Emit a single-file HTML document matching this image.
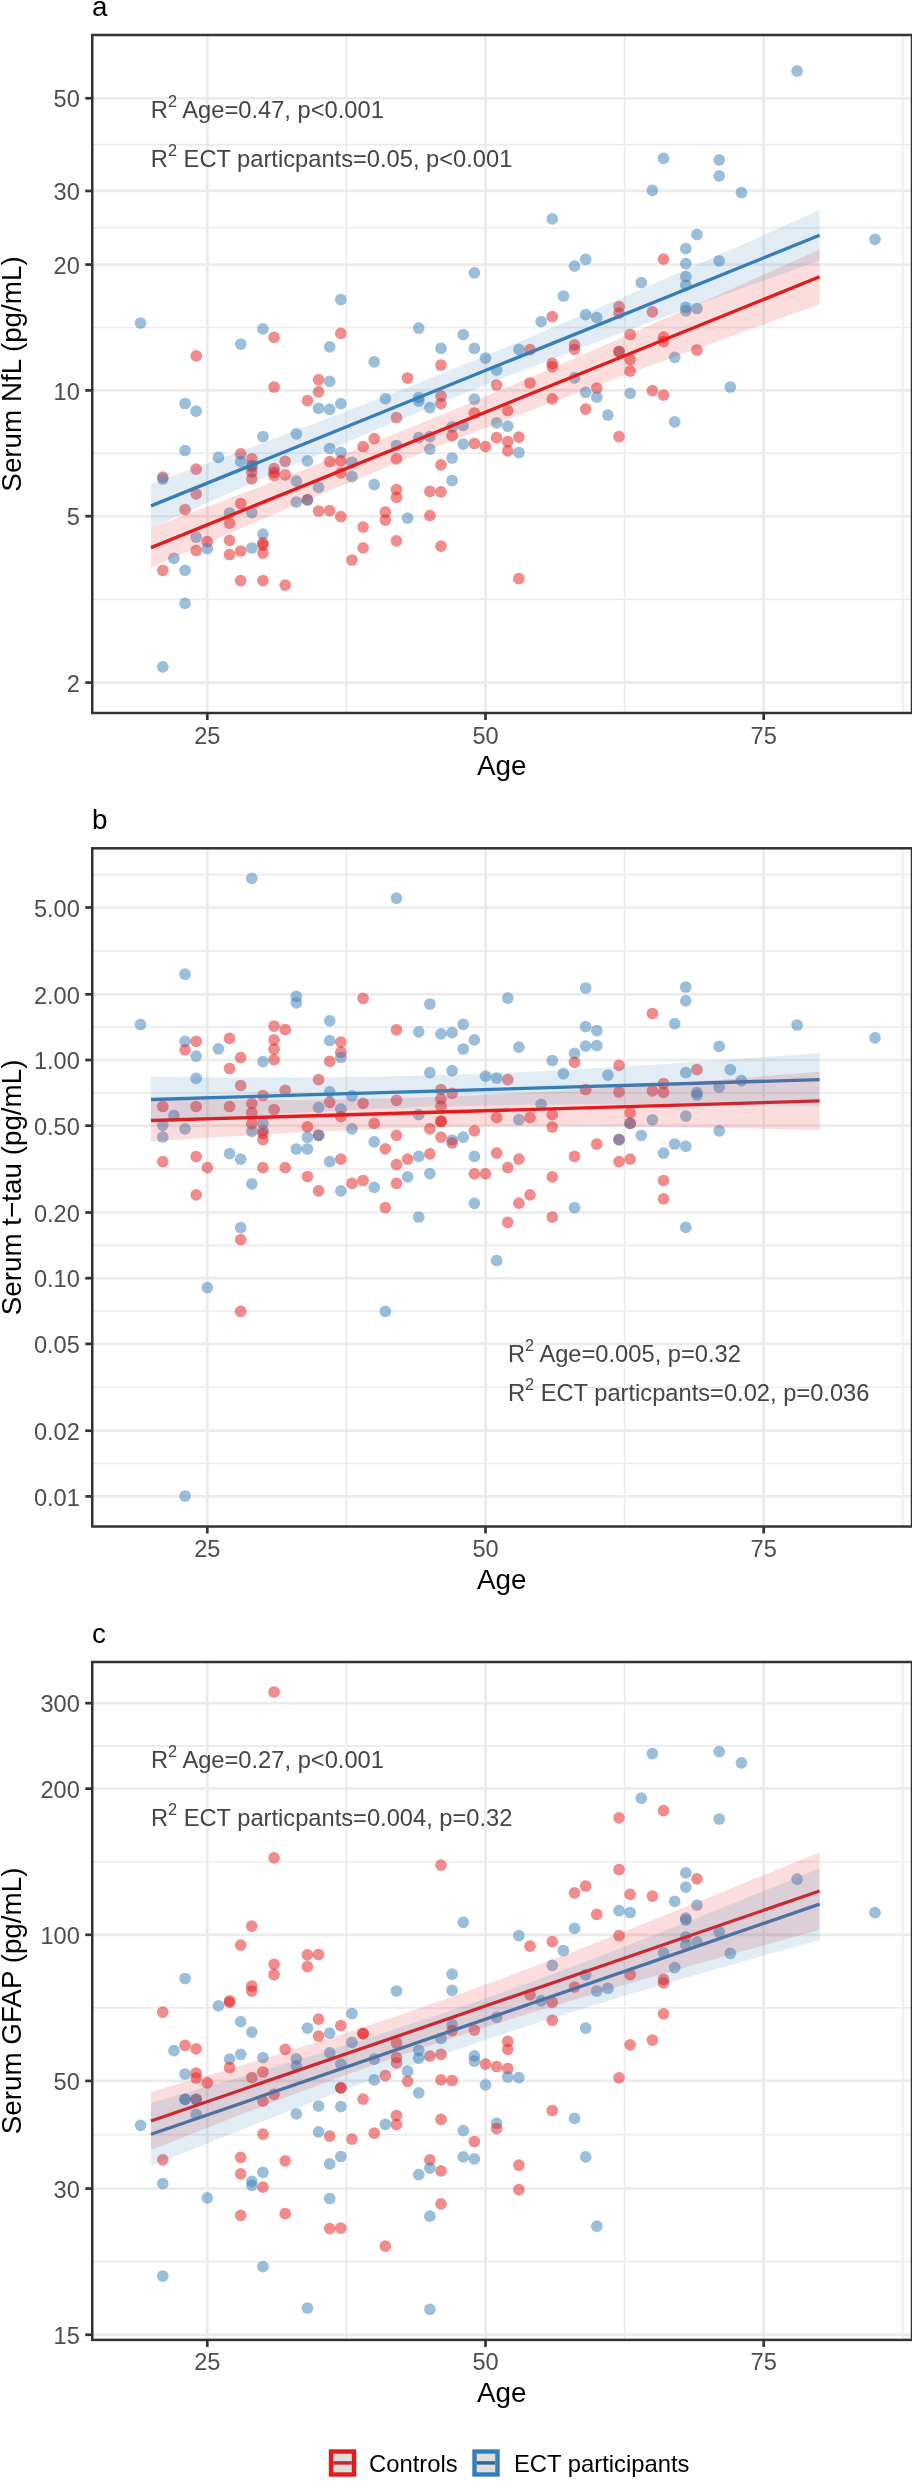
<!DOCTYPE html>
<html><head><meta charset="utf-8"><style>
html,body{margin:0;padding:0;background:#fff;width:912px;height:2491px;overflow:hidden}
svg{will-change:transform} svg text{font-family:"Liberation Sans", sans-serif}
</style></head><body>
<svg width="912" height="2491" viewBox="0 0 912 2491" style="position:absolute;left:0;top:0"><rect width="912" height="2491" fill="#fff"/><g id="panel-a"><defs><clipPath id="clipa"><rect x="92.25" y="35.0" width="819.75" height="678.0"/></clipPath></defs><g clip-path="url(#clipa)"><line x1="92.25" x2="912.0" y1="599.40" y2="599.40" stroke="#ebebeb" stroke-width="1.6"/><line x1="92.25" x2="912.0" y1="453.32" y2="453.32" stroke="#ebebeb" stroke-width="1.6"/><line x1="92.25" x2="912.0" y1="327.48" y2="327.48" stroke="#ebebeb" stroke-width="1.6"/><line x1="92.25" x2="912.0" y1="227.77" y2="227.77" stroke="#ebebeb" stroke-width="1.6"/><line x1="92.25" x2="912.0" y1="144.60" y2="144.60" stroke="#ebebeb" stroke-width="1.6"/><line x1="346.40" x2="346.40" y1="35.0" y2="713.0" stroke="#ebebeb" stroke-width="1.6"/><line x1="624.60" x2="624.60" y1="35.0" y2="713.0" stroke="#ebebeb" stroke-width="1.6"/><line x1="902.80" x2="902.80" y1="35.0" y2="713.0" stroke="#ebebeb" stroke-width="1.6"/><line x1="92.25" x2="912.0" y1="682.57" y2="682.57" stroke="#ebebeb" stroke-width="2.7"/><line x1="92.25" x2="912.0" y1="516.23" y2="516.23" stroke="#ebebeb" stroke-width="2.7"/><line x1="92.25" x2="912.0" y1="390.40" y2="390.40" stroke="#ebebeb" stroke-width="2.7"/><line x1="92.25" x2="912.0" y1="264.57" y2="264.57" stroke="#ebebeb" stroke-width="2.7"/><line x1="92.25" x2="912.0" y1="190.96" y2="190.96" stroke="#ebebeb" stroke-width="2.7"/><line x1="92.25" x2="912.0" y1="98.23" y2="98.23" stroke="#ebebeb" stroke-width="2.7"/><line x1="207.30" x2="207.30" y1="35.0" y2="713.0" stroke="#ebebeb" stroke-width="2.7"/><line x1="485.50" x2="485.50" y1="35.0" y2="713.0" stroke="#ebebeb" stroke-width="2.7"/><line x1="763.70" x2="763.70" y1="35.0" y2="713.0" stroke="#ebebeb" stroke-width="2.7"/><circle cx="140.53" cy="323.0" r="5.85" fill="#377EB8" fill-opacity="0.5"/><circle cx="196.17" cy="355.8" r="5.85" fill="#E41A1C" fill-opacity="0.5"/><circle cx="185.04" cy="403.5" r="5.85" fill="#377EB8" fill-opacity="0.5"/><circle cx="196.17" cy="411.2" r="5.85" fill="#377EB8" fill-opacity="0.5"/><circle cx="240.68" cy="344.1" r="5.85" fill="#377EB8" fill-opacity="0.5"/><circle cx="262.94" cy="328.9" r="5.85" fill="#377EB8" fill-opacity="0.5"/><circle cx="274.07" cy="337.4" r="5.85" fill="#E41A1C" fill-opacity="0.5"/><circle cx="274.07" cy="387.0" r="5.85" fill="#E41A1C" fill-opacity="0.5"/><circle cx="262.94" cy="436.5" r="5.85" fill="#377EB8" fill-opacity="0.5"/><circle cx="296.32" cy="433.9" r="5.85" fill="#377EB8" fill-opacity="0.5"/><circle cx="185.04" cy="450.5" r="5.85" fill="#377EB8" fill-opacity="0.5"/><circle cx="162.79" cy="477.1" r="5.85" fill="#E41A1C" fill-opacity="0.5"/><circle cx="162.79" cy="479.1" r="5.85" fill="#377EB8" fill-opacity="0.5"/><circle cx="162.79" cy="570.3" r="5.85" fill="#E41A1C" fill-opacity="0.5"/><circle cx="185.04" cy="509.7" r="5.85" fill="#E41A1C" fill-opacity="0.5"/><circle cx="185.04" cy="570.3" r="5.85" fill="#377EB8" fill-opacity="0.5"/><circle cx="185.04" cy="603.4" r="5.85" fill="#377EB8" fill-opacity="0.5"/><circle cx="173.92" cy="558.4" r="5.85" fill="#377EB8" fill-opacity="0.5"/><circle cx="196.17" cy="469.2" r="5.85" fill="#E41A1C" fill-opacity="0.5"/><circle cx="196.17" cy="493.9" r="5.85" fill="#E41A1C" fill-opacity="0.5"/><circle cx="196.17" cy="537.1" r="5.85" fill="#377EB8" fill-opacity="0.5"/><circle cx="196.17" cy="550.5" r="5.85" fill="#E41A1C" fill-opacity="0.5"/><circle cx="207.3" cy="541.6" r="5.85" fill="#E41A1C" fill-opacity="0.5"/><circle cx="207.3" cy="548.5" r="5.85" fill="#377EB8" fill-opacity="0.5"/><circle cx="218.43" cy="457.4" r="5.85" fill="#377EB8" fill-opacity="0.5"/><circle cx="229.56" cy="513.0" r="5.85" fill="#377EB8" fill-opacity="0.5"/><circle cx="229.56" cy="523.2" r="5.85" fill="#E41A1C" fill-opacity="0.5"/><circle cx="229.56" cy="540.3" r="5.85" fill="#E41A1C" fill-opacity="0.5"/><circle cx="229.56" cy="554.5" r="5.85" fill="#E41A1C" fill-opacity="0.5"/><circle cx="240.68" cy="453.8" r="5.85" fill="#E41A1C" fill-opacity="0.5"/><circle cx="240.68" cy="461.6" r="5.85" fill="#377EB8" fill-opacity="0.5"/><circle cx="240.68" cy="503.5" r="5.85" fill="#E41A1C" fill-opacity="0.5"/><circle cx="240.68" cy="551.0" r="5.85" fill="#E41A1C" fill-opacity="0.5"/><circle cx="240.68" cy="580.6" r="5.85" fill="#E41A1C" fill-opacity="0.5"/><circle cx="251.81" cy="458.8" r="5.85" fill="#E41A1C" fill-opacity="0.5"/><circle cx="251.81" cy="465.5" r="5.85" fill="#E41A1C" fill-opacity="0.5"/><circle cx="251.81" cy="467.0" r="5.85" fill="#377EB8" fill-opacity="0.5"/><circle cx="251.81" cy="472.0" r="5.85" fill="#E41A1C" fill-opacity="0.5"/><circle cx="251.81" cy="478.8" r="5.85" fill="#E41A1C" fill-opacity="0.5"/><circle cx="251.81" cy="512.6" r="5.85" fill="#377EB8" fill-opacity="0.5"/><circle cx="251.81" cy="548.0" r="5.85" fill="#377EB8" fill-opacity="0.5"/><circle cx="262.94" cy="534.2" r="5.85" fill="#377EB8" fill-opacity="0.5"/><circle cx="262.94" cy="542.9" r="5.85" fill="#E41A1C" fill-opacity="0.5"/><circle cx="262.94" cy="545.3" r="5.85" fill="#E41A1C" fill-opacity="0.5"/><circle cx="262.94" cy="553.2" r="5.85" fill="#E41A1C" fill-opacity="0.5"/><circle cx="262.94" cy="580.6" r="5.85" fill="#E41A1C" fill-opacity="0.5"/><circle cx="274.07" cy="468.6" r="5.85" fill="#E41A1C" fill-opacity="0.5"/><circle cx="274.07" cy="472.5" r="5.85" fill="#E41A1C" fill-opacity="0.5"/><circle cx="274.07" cy="475.5" r="5.85" fill="#E41A1C" fill-opacity="0.5"/><circle cx="285.2" cy="461.3" r="5.85" fill="#E41A1C" fill-opacity="0.5"/><circle cx="285.2" cy="474.9" r="5.85" fill="#E41A1C" fill-opacity="0.5"/><circle cx="285.2" cy="585.2" r="5.85" fill="#E41A1C" fill-opacity="0.5"/><circle cx="296.32" cy="481.1" r="5.85" fill="#377EB8" fill-opacity="0.5"/><circle cx="296.32" cy="502.2" r="5.85" fill="#377EB8" fill-opacity="0.5"/><circle cx="162.79" cy="666.8" r="5.85" fill="#377EB8" fill-opacity="0.5"/><circle cx="340.84" cy="299.5" r="5.85" fill="#377EB8" fill-opacity="0.5"/><circle cx="340.84" cy="333.4" r="5.85" fill="#E41A1C" fill-opacity="0.5"/><circle cx="329.71" cy="346.8" r="5.85" fill="#377EB8" fill-opacity="0.5"/><circle cx="374.22" cy="361.8" r="5.85" fill="#377EB8" fill-opacity="0.5"/><circle cx="418.73" cy="328.1" r="5.85" fill="#377EB8" fill-opacity="0.5"/><circle cx="463.24" cy="334.6" r="5.85" fill="#377EB8" fill-opacity="0.5"/><circle cx="440.99" cy="348.4" r="5.85" fill="#377EB8" fill-opacity="0.5"/><circle cx="474.37" cy="348.4" r="5.85" fill="#377EB8" fill-opacity="0.5"/><circle cx="474.37" cy="272.8" r="5.85" fill="#377EB8" fill-opacity="0.5"/><circle cx="440.99" cy="365.0" r="5.85" fill="#E41A1C" fill-opacity="0.5"/><circle cx="407.6" cy="378.0" r="5.85" fill="#E41A1C" fill-opacity="0.5"/><circle cx="318.58" cy="379.8" r="5.85" fill="#E41A1C" fill-opacity="0.5"/><circle cx="329.71" cy="381.4" r="5.85" fill="#377EB8" fill-opacity="0.5"/><circle cx="318.58" cy="391.8" r="5.85" fill="#E41A1C" fill-opacity="0.5"/><circle cx="307.45" cy="400.7" r="5.85" fill="#E41A1C" fill-opacity="0.5"/><circle cx="318.58" cy="408.4" r="5.85" fill="#377EB8" fill-opacity="0.5"/><circle cx="329.71" cy="409.4" r="5.85" fill="#377EB8" fill-opacity="0.5"/><circle cx="340.84" cy="403.7" r="5.85" fill="#377EB8" fill-opacity="0.5"/><circle cx="385.35" cy="398.7" r="5.85" fill="#377EB8" fill-opacity="0.5"/><circle cx="418.73" cy="397.6" r="5.85" fill="#377EB8" fill-opacity="0.5"/><circle cx="418.73" cy="401.1" r="5.85" fill="#377EB8" fill-opacity="0.5"/><circle cx="429.86" cy="407.6" r="5.85" fill="#377EB8" fill-opacity="0.5"/><circle cx="440.99" cy="395.8" r="5.85" fill="#E41A1C" fill-opacity="0.5"/><circle cx="440.99" cy="403.7" r="5.85" fill="#E41A1C" fill-opacity="0.5"/><circle cx="396.48" cy="417.5" r="5.85" fill="#E41A1C" fill-opacity="0.5"/><circle cx="474.37" cy="399.1" r="5.85" fill="#377EB8" fill-opacity="0.5"/><circle cx="374.22" cy="438.6" r="5.85" fill="#E41A1C" fill-opacity="0.5"/><circle cx="363.09" cy="446.5" r="5.85" fill="#E41A1C" fill-opacity="0.5"/><circle cx="329.71" cy="448.5" r="5.85" fill="#377EB8" fill-opacity="0.5"/><circle cx="340.84" cy="452.4" r="5.85" fill="#377EB8" fill-opacity="0.5"/><circle cx="307.45" cy="460.9" r="5.85" fill="#377EB8" fill-opacity="0.5"/><circle cx="329.71" cy="461.7" r="5.85" fill="#E41A1C" fill-opacity="0.5"/><circle cx="340.84" cy="460.9" r="5.85" fill="#E41A1C" fill-opacity="0.5"/><circle cx="351.96" cy="462.3" r="5.85" fill="#377EB8" fill-opacity="0.5"/><circle cx="340.84" cy="472.8" r="5.85" fill="#E41A1C" fill-opacity="0.5"/><circle cx="351.96" cy="476.7" r="5.85" fill="#377EB8" fill-opacity="0.5"/><circle cx="318.58" cy="487.4" r="5.85" fill="#377EB8" fill-opacity="0.5"/><circle cx="374.22" cy="484.6" r="5.85" fill="#377EB8" fill-opacity="0.5"/><circle cx="307.45" cy="499.8" r="5.85" fill="#E41A1C" fill-opacity="0.5"/><circle cx="307.45" cy="499.8" r="5.85" fill="#377EB8" fill-opacity="0.5"/><circle cx="318.58" cy="511.0" r="5.85" fill="#E41A1C" fill-opacity="0.5"/><circle cx="329.71" cy="510.6" r="5.85" fill="#E41A1C" fill-opacity="0.5"/><circle cx="340.84" cy="516.6" r="5.85" fill="#E41A1C" fill-opacity="0.5"/><circle cx="363.09" cy="527.0" r="5.85" fill="#E41A1C" fill-opacity="0.5"/><circle cx="363.09" cy="547.8" r="5.85" fill="#E41A1C" fill-opacity="0.5"/><circle cx="351.96" cy="560.0" r="5.85" fill="#E41A1C" fill-opacity="0.5"/><circle cx="385.35" cy="512.2" r="5.85" fill="#E41A1C" fill-opacity="0.5"/><circle cx="385.35" cy="520.1" r="5.85" fill="#E41A1C" fill-opacity="0.5"/><circle cx="396.48" cy="458.9" r="5.85" fill="#E41A1C" fill-opacity="0.5"/><circle cx="396.48" cy="445.5" r="5.85" fill="#377EB8" fill-opacity="0.5"/><circle cx="396.48" cy="489.5" r="5.85" fill="#E41A1C" fill-opacity="0.5"/><circle cx="396.48" cy="497.4" r="5.85" fill="#E41A1C" fill-opacity="0.5"/><circle cx="396.48" cy="540.8" r="5.85" fill="#E41A1C" fill-opacity="0.5"/><circle cx="407.6" cy="518.2" r="5.85" fill="#377EB8" fill-opacity="0.5"/><circle cx="418.73" cy="437.6" r="5.85" fill="#377EB8" fill-opacity="0.5"/><circle cx="429.86" cy="436.6" r="5.85" fill="#377EB8" fill-opacity="0.5"/><circle cx="429.86" cy="449.1" r="5.85" fill="#377EB8" fill-opacity="0.5"/><circle cx="429.86" cy="491.3" r="5.85" fill="#E41A1C" fill-opacity="0.5"/><circle cx="440.99" cy="491.9" r="5.85" fill="#E41A1C" fill-opacity="0.5"/><circle cx="429.86" cy="515.6" r="5.85" fill="#E41A1C" fill-opacity="0.5"/><circle cx="440.99" cy="546.2" r="5.85" fill="#E41A1C" fill-opacity="0.5"/><circle cx="440.99" cy="464.9" r="5.85" fill="#E41A1C" fill-opacity="0.5"/><circle cx="452.12" cy="458.0" r="5.85" fill="#377EB8" fill-opacity="0.5"/><circle cx="452.12" cy="480.5" r="5.85" fill="#377EB8" fill-opacity="0.5"/><circle cx="452.12" cy="426.8" r="5.85" fill="#377EB8" fill-opacity="0.5"/><circle cx="452.12" cy="435.7" r="5.85" fill="#E41A1C" fill-opacity="0.5"/><circle cx="463.24" cy="425.4" r="5.85" fill="#377EB8" fill-opacity="0.5"/><circle cx="463.24" cy="444.1" r="5.85" fill="#377EB8" fill-opacity="0.5"/><circle cx="474.37" cy="443.5" r="5.85" fill="#E41A1C" fill-opacity="0.5"/><circle cx="474.37" cy="413.0" r="5.85" fill="#E41A1C" fill-opacity="0.5"/><circle cx="552.27" cy="218.9" r="5.85" fill="#377EB8" fill-opacity="0.5"/><circle cx="574.52" cy="266.2" r="5.85" fill="#377EB8" fill-opacity="0.5"/><circle cx="585.65" cy="259.3" r="5.85" fill="#377EB8" fill-opacity="0.5"/><circle cx="563.4" cy="296.0" r="5.85" fill="#377EB8" fill-opacity="0.5"/><circle cx="641.29" cy="282.6" r="5.85" fill="#377EB8" fill-opacity="0.5"/><circle cx="552.27" cy="316.6" r="5.85" fill="#E41A1C" fill-opacity="0.5"/><circle cx="541.14" cy="321.7" r="5.85" fill="#377EB8" fill-opacity="0.5"/><circle cx="585.65" cy="314.6" r="5.85" fill="#377EB8" fill-opacity="0.5"/><circle cx="596.78" cy="317.6" r="5.85" fill="#377EB8" fill-opacity="0.5"/><circle cx="619.04" cy="306.7" r="5.85" fill="#E41A1C" fill-opacity="0.5"/><circle cx="619.04" cy="313.2" r="5.85" fill="#E41A1C" fill-opacity="0.5"/><circle cx="630.16" cy="334.5" r="5.85" fill="#E41A1C" fill-opacity="0.5"/><circle cx="485.5" cy="358.0" r="5.85" fill="#377EB8" fill-opacity="0.5"/><circle cx="518.88" cy="349.4" r="5.85" fill="#377EB8" fill-opacity="0.5"/><circle cx="530.01" cy="349.6" r="5.85" fill="#E41A1C" fill-opacity="0.5"/><circle cx="574.52" cy="344.8" r="5.85" fill="#E41A1C" fill-opacity="0.5"/><circle cx="574.52" cy="349.3" r="5.85" fill="#E41A1C" fill-opacity="0.5"/><circle cx="619.04" cy="351.6" r="5.85" fill="#377EB8" fill-opacity="0.5"/><circle cx="630.16" cy="359.5" r="5.85" fill="#E41A1C" fill-opacity="0.5"/><circle cx="496.63" cy="370.0" r="5.85" fill="#377EB8" fill-opacity="0.5"/><circle cx="496.63" cy="385.0" r="5.85" fill="#E41A1C" fill-opacity="0.5"/><circle cx="530.01" cy="383.0" r="5.85" fill="#E41A1C" fill-opacity="0.5"/><circle cx="552.27" cy="363.3" r="5.85" fill="#E41A1C" fill-opacity="0.5"/><circle cx="552.27" cy="366.6" r="5.85" fill="#E41A1C" fill-opacity="0.5"/><circle cx="574.52" cy="377.9" r="5.85" fill="#377EB8" fill-opacity="0.5"/><circle cx="630.16" cy="371.2" r="5.85" fill="#E41A1C" fill-opacity="0.5"/><circle cx="596.78" cy="388.0" r="5.85" fill="#E41A1C" fill-opacity="0.5"/><circle cx="585.65" cy="392.3" r="5.85" fill="#377EB8" fill-opacity="0.5"/><circle cx="596.78" cy="397.2" r="5.85" fill="#377EB8" fill-opacity="0.5"/><circle cx="630.16" cy="393.3" r="5.85" fill="#377EB8" fill-opacity="0.5"/><circle cx="552.27" cy="398.8" r="5.85" fill="#E41A1C" fill-opacity="0.5"/><circle cx="585.65" cy="409.1" r="5.85" fill="#E41A1C" fill-opacity="0.5"/><circle cx="607.91" cy="415.0" r="5.85" fill="#377EB8" fill-opacity="0.5"/><circle cx="619.04" cy="436.7" r="5.85" fill="#E41A1C" fill-opacity="0.5"/><circle cx="507.76" cy="410.7" r="5.85" fill="#E41A1C" fill-opacity="0.5"/><circle cx="496.63" cy="422.9" r="5.85" fill="#377EB8" fill-opacity="0.5"/><circle cx="507.76" cy="426.2" r="5.85" fill="#377EB8" fill-opacity="0.5"/><circle cx="485.5" cy="446.6" r="5.85" fill="#E41A1C" fill-opacity="0.5"/><circle cx="496.63" cy="437.7" r="5.85" fill="#E41A1C" fill-opacity="0.5"/><circle cx="507.76" cy="441.6" r="5.85" fill="#E41A1C" fill-opacity="0.5"/><circle cx="518.88" cy="437.1" r="5.85" fill="#E41A1C" fill-opacity="0.5"/><circle cx="507.76" cy="450.9" r="5.85" fill="#E41A1C" fill-opacity="0.5"/><circle cx="518.88" cy="452.5" r="5.85" fill="#377EB8" fill-opacity="0.5"/><circle cx="518.88" cy="578.5" r="5.85" fill="#E41A1C" fill-opacity="0.5"/><circle cx="797.08" cy="71.0" r="5.85" fill="#377EB8" fill-opacity="0.5"/><circle cx="663.55" cy="158.4" r="5.85" fill="#377EB8" fill-opacity="0.5"/><circle cx="719.19" cy="159.8" r="5.85" fill="#377EB8" fill-opacity="0.5"/><circle cx="719.19" cy="175.8" r="5.85" fill="#377EB8" fill-opacity="0.5"/><circle cx="652.42" cy="190.4" r="5.85" fill="#377EB8" fill-opacity="0.5"/><circle cx="741.44" cy="192.6" r="5.85" fill="#377EB8" fill-opacity="0.5"/><circle cx="696.93" cy="234.5" r="5.85" fill="#377EB8" fill-opacity="0.5"/><circle cx="685.8" cy="248.7" r="5.85" fill="#377EB8" fill-opacity="0.5"/><circle cx="663.55" cy="259.2" r="5.85" fill="#E41A1C" fill-opacity="0.5"/><circle cx="685.8" cy="263.7" r="5.85" fill="#377EB8" fill-opacity="0.5"/><circle cx="719.19" cy="260.8" r="5.85" fill="#377EB8" fill-opacity="0.5"/><circle cx="685.8" cy="276.6" r="5.85" fill="#377EB8" fill-opacity="0.5"/><circle cx="685.8" cy="285.3" r="5.85" fill="#377EB8" fill-opacity="0.5"/><circle cx="652.42" cy="311.9" r="5.85" fill="#E41A1C" fill-opacity="0.5"/><circle cx="685.8" cy="307.4" r="5.85" fill="#377EB8" fill-opacity="0.5"/><circle cx="685.8" cy="310.8" r="5.85" fill="#377EB8" fill-opacity="0.5"/><circle cx="696.93" cy="308.5" r="5.85" fill="#377EB8" fill-opacity="0.5"/><circle cx="663.55" cy="337.2" r="5.85" fill="#E41A1C" fill-opacity="0.5"/><circle cx="663.55" cy="341.7" r="5.85" fill="#E41A1C" fill-opacity="0.5"/><circle cx="696.93" cy="350.0" r="5.85" fill="#E41A1C" fill-opacity="0.5"/><circle cx="674.68" cy="357.3" r="5.85" fill="#377EB8" fill-opacity="0.5"/><circle cx="652.42" cy="390.6" r="5.85" fill="#E41A1C" fill-opacity="0.5"/><circle cx="663.55" cy="395.1" r="5.85" fill="#E41A1C" fill-opacity="0.5"/><circle cx="730.32" cy="387.0" r="5.85" fill="#377EB8" fill-opacity="0.5"/><circle cx="674.68" cy="421.8" r="5.85" fill="#377EB8" fill-opacity="0.5"/><circle cx="874.98" cy="239.3" r="5.85" fill="#377EB8" fill-opacity="0.5"/><circle cx="619.04" cy="351.6" r="5.85" fill="#E41A1C" fill-opacity="0.5"/><line x1="151" y1="547.6" x2="819.6" y2="276.8" stroke="#E41A1C" stroke-width="3.3"/><line x1="151" y1="505.9" x2="819.6" y2="235.2" stroke="#377EB8" stroke-width="3.3"/><path d="M151.00,527.51 L167.72,521.33 L184.43,515.14 L201.15,508.91 L217.86,502.65 L234.57,496.36 L251.29,490.04 L268.00,483.68 L284.72,477.27 L301.44,470.83 L318.15,464.33 L334.87,457.79 L351.58,451.20 L368.30,444.55 L385.01,437.85 L401.73,431.09 L418.44,424.28 L435.16,417.42 L451.87,410.50 L468.58,403.52 L485.30,396.50 L502.01,389.43 L518.73,382.31 L535.45,375.16 L552.16,367.96 L568.88,360.73 L585.59,353.46 L602.31,346.16 L619.02,338.83 L635.74,331.48 L652.45,324.10 L669.17,316.70 L685.88,309.28 L702.60,301.84 L719.31,294.39 L736.02,286.92 L752.74,279.44 L769.46,271.94 L786.17,264.43 L802.88,256.92 L819.60,249.39 L819.60,304.21 L802.88,310.22 L786.17,316.25 L769.46,322.28 L752.74,328.32 L736.02,334.38 L719.31,340.45 L702.60,346.54 L685.88,352.64 L669.17,358.76 L652.45,364.90 L635.74,371.06 L619.02,377.25 L602.31,383.46 L585.59,389.70 L568.88,395.97 L552.16,402.28 L535.45,408.62 L518.73,415.01 L502.01,421.43 L485.30,427.90 L468.58,434.42 L451.87,440.98 L435.16,447.60 L418.44,454.28 L401.73,461.01 L385.01,467.79 L368.30,474.63 L351.58,481.52 L334.87,488.47 L318.15,495.47 L301.44,502.51 L284.72,509.61 L268.00,516.74 L251.29,523.92 L234.57,531.14 L217.86,538.39 L201.15,545.67 L184.43,552.98 L167.72,560.33 L151.00,567.69 Z" fill="#E41A1C" fill-opacity="0.15"/><path d="M151.00,483.96 L167.72,477.88 L184.43,471.78 L201.15,465.66 L217.86,459.52 L234.57,453.36 L251.29,447.16 L268.00,440.94 L284.72,434.68 L301.44,428.38 L318.15,422.05 L334.87,415.67 L351.58,409.25 L368.30,402.78 L385.01,396.25 L401.73,389.67 L418.44,383.04 L435.16,376.34 L451.87,369.59 L468.58,362.78 L485.30,355.90 L502.01,348.97 L518.73,341.99 L535.45,334.95 L552.16,327.86 L568.88,320.72 L585.59,313.54 L602.31,306.32 L619.02,299.05 L635.74,291.76 L652.45,284.43 L669.17,277.08 L685.88,269.69 L702.60,262.29 L719.31,254.86 L736.02,247.41 L752.74,239.94 L769.46,232.46 L786.17,224.97 L802.88,217.45 L819.60,209.93 L819.60,260.47 L802.88,266.48 L786.17,272.50 L769.46,278.54 L752.74,284.60 L736.02,290.66 L719.31,296.75 L702.60,302.86 L685.88,308.99 L669.17,315.14 L652.45,321.32 L635.74,327.53 L619.02,333.77 L602.31,340.04 L585.59,346.35 L568.88,352.70 L552.16,359.10 L535.45,365.55 L518.73,372.04 L502.01,378.59 L485.30,385.20 L468.58,391.86 L451.87,398.58 L435.16,405.36 L418.44,412.20 L401.73,419.10 L385.01,426.06 L368.30,433.07 L351.58,440.13 L334.87,447.24 L318.15,454.40 L301.44,461.60 L284.72,468.84 L268.00,476.12 L251.29,483.43 L234.57,490.77 L217.86,498.14 L201.15,505.53 L184.43,512.95 L167.72,520.39 L151.00,527.84 Z" fill="#377EB8" fill-opacity="0.15"/></g><rect x="92.25" y="35.0" width="819.75" height="678.0" fill="none" stroke="#333" stroke-width="2.5"/><line x1="85.25" x2="92.25" y1="682.57" y2="682.57" stroke="#333" stroke-width="2.7"/><text x="79.8" y="691.77" text-anchor="end" font-size="23.6" fill="#4d4d4d">2</text><line x1="85.25" x2="92.25" y1="516.23" y2="516.23" stroke="#333" stroke-width="2.7"/><text x="79.8" y="525.43" text-anchor="end" font-size="23.6" fill="#4d4d4d">5</text><line x1="85.25" x2="92.25" y1="390.40" y2="390.40" stroke="#333" stroke-width="2.7"/><text x="79.8" y="399.60" text-anchor="end" font-size="23.6" fill="#4d4d4d">10</text><line x1="85.25" x2="92.25" y1="264.57" y2="264.57" stroke="#333" stroke-width="2.7"/><text x="79.8" y="273.77" text-anchor="end" font-size="23.6" fill="#4d4d4d">20</text><line x1="85.25" x2="92.25" y1="190.96" y2="190.96" stroke="#333" stroke-width="2.7"/><text x="79.8" y="200.16" text-anchor="end" font-size="23.6" fill="#4d4d4d">30</text><line x1="85.25" x2="92.25" y1="98.23" y2="98.23" stroke="#333" stroke-width="2.7"/><text x="79.8" y="107.43" text-anchor="end" font-size="23.6" fill="#4d4d4d">50</text><line x1="207.30" x2="207.30" y1="713.0" y2="720.0" stroke="#333" stroke-width="2.7"/><text x="207.30" y="743.50" text-anchor="middle" font-size="23.6" fill="#4d4d4d">25</text><line x1="485.50" x2="485.50" y1="713.0" y2="720.0" stroke="#333" stroke-width="2.7"/><text x="485.50" y="743.50" text-anchor="middle" font-size="23.6" fill="#4d4d4d">50</text><line x1="763.70" x2="763.70" y1="713.0" y2="720.0" stroke="#333" stroke-width="2.7"/><text x="763.70" y="743.50" text-anchor="middle" font-size="23.6" fill="#4d4d4d">75</text><text x="501.70" y="775.00" text-anchor="middle" font-size="27.8" fill="#000">Age</text><text transform="translate(21,374.00) rotate(-90)" x="0" y="0" text-anchor="middle" font-size="27.8" fill="#000">Serum NfL (pg/mL)</text><text x="92" y="15.80" font-size="27.8" fill="#000">a</text><text x="150.85" y="118.00" font-size="23.7" fill="#444">R<tspan font-size="16.3" dy="-10.8">2</tspan><tspan dy="10.8"> Age=0.47, p<0.001</tspan></text><text x="150.85" y="167.00" font-size="23.7" fill="#444">R<tspan font-size="16.3" dy="-10.8">2</tspan><tspan dy="10.8"> ECT particpants=0.05, p<0.001</tspan></text></g><g id="panel-b"><defs><clipPath id="clipb"><rect x="92.25" y="848.3" width="819.75" height="678.2"/></clipPath></defs><g clip-path="url(#clipb)"><line x1="92.25" x2="912.0" y1="1463.56" y2="1463.56" stroke="#ebebeb" stroke-width="1.6"/><line x1="92.25" x2="912.0" y1="1387.30" y2="1387.30" stroke="#ebebeb" stroke-width="1.6"/><line x1="92.25" x2="912.0" y1="1311.04" y2="1311.04" stroke="#ebebeb" stroke-width="1.6"/><line x1="92.25" x2="912.0" y1="1245.36" y2="1245.36" stroke="#ebebeb" stroke-width="1.6"/><line x1="92.25" x2="912.0" y1="1169.10" y2="1169.10" stroke="#ebebeb" stroke-width="1.6"/><line x1="92.25" x2="912.0" y1="1092.84" y2="1092.84" stroke="#ebebeb" stroke-width="1.6"/><line x1="92.25" x2="912.0" y1="1027.16" y2="1027.16" stroke="#ebebeb" stroke-width="1.6"/><line x1="92.25" x2="912.0" y1="950.90" y2="950.90" stroke="#ebebeb" stroke-width="1.6"/><line x1="92.25" x2="912.0" y1="874.64" y2="874.64" stroke="#ebebeb" stroke-width="1.6"/><line x1="346.40" x2="346.40" y1="848.3" y2="1526.5" stroke="#ebebeb" stroke-width="1.6"/><line x1="624.60" x2="624.60" y1="848.3" y2="1526.5" stroke="#ebebeb" stroke-width="1.6"/><line x1="902.80" x2="902.80" y1="848.3" y2="1526.5" stroke="#ebebeb" stroke-width="1.6"/><line x1="92.25" x2="912.0" y1="1496.40" y2="1496.40" stroke="#ebebeb" stroke-width="2.7"/><line x1="92.25" x2="912.0" y1="1430.72" y2="1430.72" stroke="#ebebeb" stroke-width="2.7"/><line x1="92.25" x2="912.0" y1="1343.88" y2="1343.88" stroke="#ebebeb" stroke-width="2.7"/><line x1="92.25" x2="912.0" y1="1278.20" y2="1278.20" stroke="#ebebeb" stroke-width="2.7"/><line x1="92.25" x2="912.0" y1="1212.52" y2="1212.52" stroke="#ebebeb" stroke-width="2.7"/><line x1="92.25" x2="912.0" y1="1125.68" y2="1125.68" stroke="#ebebeb" stroke-width="2.7"/><line x1="92.25" x2="912.0" y1="1060.00" y2="1060.00" stroke="#ebebeb" stroke-width="2.7"/><line x1="92.25" x2="912.0" y1="994.32" y2="994.32" stroke="#ebebeb" stroke-width="2.7"/><line x1="92.25" x2="912.0" y1="907.48" y2="907.48" stroke="#ebebeb" stroke-width="2.7"/><line x1="207.30" x2="207.30" y1="848.3" y2="1526.5" stroke="#ebebeb" stroke-width="2.7"/><line x1="485.50" x2="485.50" y1="848.3" y2="1526.5" stroke="#ebebeb" stroke-width="2.7"/><line x1="763.70" x2="763.70" y1="848.3" y2="1526.5" stroke="#ebebeb" stroke-width="2.7"/><circle cx="251.81" cy="878.3" r="5.85" fill="#377EB8" fill-opacity="0.5"/><circle cx="396.48" cy="898.1" r="5.85" fill="#377EB8" fill-opacity="0.5"/><circle cx="185.04" cy="974.2" r="5.85" fill="#377EB8" fill-opacity="0.5"/><circle cx="140.53" cy="1024.5" r="5.85" fill="#377EB8" fill-opacity="0.5"/><circle cx="296.32" cy="996.4" r="5.85" fill="#377EB8" fill-opacity="0.5"/><circle cx="296.32" cy="1002.8" r="5.85" fill="#377EB8" fill-opacity="0.5"/><circle cx="274.07" cy="1026.1" r="5.85" fill="#E41A1C" fill-opacity="0.5"/><circle cx="285.2" cy="1029.5" r="5.85" fill="#E41A1C" fill-opacity="0.5"/><circle cx="274.07" cy="1039.9" r="5.85" fill="#E41A1C" fill-opacity="0.5"/><circle cx="274.07" cy="1049.2" r="5.85" fill="#E41A1C" fill-opacity="0.5"/><circle cx="274.07" cy="1059.7" r="5.85" fill="#E41A1C" fill-opacity="0.5"/><circle cx="185.04" cy="1041.3" r="5.85" fill="#377EB8" fill-opacity="0.5"/><circle cx="185.04" cy="1049.8" r="5.85" fill="#E41A1C" fill-opacity="0.5"/><circle cx="196.17" cy="1041.3" r="5.85" fill="#E41A1C" fill-opacity="0.5"/><circle cx="196.17" cy="1056.1" r="5.85" fill="#377EB8" fill-opacity="0.5"/><circle cx="218.43" cy="1048.8" r="5.85" fill="#377EB8" fill-opacity="0.5"/><circle cx="229.56" cy="1038.4" r="5.85" fill="#E41A1C" fill-opacity="0.5"/><circle cx="240.68" cy="1057.7" r="5.85" fill="#E41A1C" fill-opacity="0.5"/><circle cx="229.56" cy="1068.5" r="5.85" fill="#E41A1C" fill-opacity="0.5"/><circle cx="262.94" cy="1061.6" r="5.85" fill="#377EB8" fill-opacity="0.5"/><circle cx="196.17" cy="1078.4" r="5.85" fill="#377EB8" fill-opacity="0.5"/><circle cx="240.68" cy="1085.5" r="5.85" fill="#E41A1C" fill-opacity="0.5"/><circle cx="262.94" cy="1095.5" r="5.85" fill="#E41A1C" fill-opacity="0.5"/><circle cx="285.2" cy="1090.3" r="5.85" fill="#E41A1C" fill-opacity="0.5"/><circle cx="162.79" cy="1106.5" r="5.85" fill="#E41A1C" fill-opacity="0.5"/><circle cx="196.17" cy="1106.5" r="5.85" fill="#E41A1C" fill-opacity="0.5"/><circle cx="229.56" cy="1106.5" r="5.85" fill="#E41A1C" fill-opacity="0.5"/><circle cx="251.81" cy="1103.4" r="5.85" fill="#E41A1C" fill-opacity="0.5"/><circle cx="251.81" cy="1112.7" r="5.85" fill="#E41A1C" fill-opacity="0.5"/><circle cx="251.81" cy="1123.9" r="5.85" fill="#E41A1C" fill-opacity="0.5"/><circle cx="251.81" cy="1131.3" r="5.85" fill="#377EB8" fill-opacity="0.5"/><circle cx="274.07" cy="1109.5" r="5.85" fill="#E41A1C" fill-opacity="0.5"/><circle cx="173.92" cy="1115.7" r="5.85" fill="#377EB8" fill-opacity="0.5"/><circle cx="162.79" cy="1125.3" r="5.85" fill="#377EB8" fill-opacity="0.5"/><circle cx="162.79" cy="1137.0" r="5.85" fill="#377EB8" fill-opacity="0.5"/><circle cx="185.04" cy="1128.8" r="5.85" fill="#377EB8" fill-opacity="0.5"/><circle cx="262.94" cy="1123.3" r="5.85" fill="#377EB8" fill-opacity="0.5"/><circle cx="262.94" cy="1130.5" r="5.85" fill="#377EB8" fill-opacity="0.5"/><circle cx="262.94" cy="1133.5" r="5.85" fill="#E41A1C" fill-opacity="0.5"/><circle cx="262.94" cy="1139.7" r="5.85" fill="#E41A1C" fill-opacity="0.5"/><circle cx="307.45" cy="1126.8" r="5.85" fill="#E41A1C" fill-opacity="0.5"/><circle cx="307.45" cy="1137.4" r="5.85" fill="#377EB8" fill-opacity="0.5"/><circle cx="296.32" cy="1149.0" r="5.85" fill="#377EB8" fill-opacity="0.5"/><circle cx="307.45" cy="1149.0" r="5.85" fill="#377EB8" fill-opacity="0.5"/><circle cx="162.79" cy="1161.7" r="5.85" fill="#E41A1C" fill-opacity="0.5"/><circle cx="196.17" cy="1156.5" r="5.85" fill="#E41A1C" fill-opacity="0.5"/><circle cx="207.3" cy="1167.7" r="5.85" fill="#E41A1C" fill-opacity="0.5"/><circle cx="229.56" cy="1153.7" r="5.85" fill="#377EB8" fill-opacity="0.5"/><circle cx="240.68" cy="1159.2" r="5.85" fill="#377EB8" fill-opacity="0.5"/><circle cx="262.94" cy="1167.7" r="5.85" fill="#E41A1C" fill-opacity="0.5"/><circle cx="285.2" cy="1167.7" r="5.85" fill="#E41A1C" fill-opacity="0.5"/><circle cx="307.45" cy="1176.5" r="5.85" fill="#E41A1C" fill-opacity="0.5"/><circle cx="251.81" cy="1183.8" r="5.85" fill="#377EB8" fill-opacity="0.5"/><circle cx="196.17" cy="1194.9" r="5.85" fill="#E41A1C" fill-opacity="0.5"/><circle cx="240.68" cy="1227.6" r="5.85" fill="#377EB8" fill-opacity="0.5"/><circle cx="240.68" cy="1239.7" r="5.85" fill="#E41A1C" fill-opacity="0.5"/><circle cx="207.3" cy="1287.7" r="5.85" fill="#377EB8" fill-opacity="0.5"/><circle cx="240.68" cy="1311.4" r="5.85" fill="#E41A1C" fill-opacity="0.5"/><circle cx="185.04" cy="1496.0" r="5.85" fill="#377EB8" fill-opacity="0.5"/><circle cx="363.09" cy="998.3" r="5.85" fill="#E41A1C" fill-opacity="0.5"/><circle cx="429.86" cy="1004.0" r="5.85" fill="#377EB8" fill-opacity="0.5"/><circle cx="329.71" cy="1020.8" r="5.85" fill="#377EB8" fill-opacity="0.5"/><circle cx="396.48" cy="1029.9" r="5.85" fill="#E41A1C" fill-opacity="0.5"/><circle cx="418.73" cy="1031.8" r="5.85" fill="#377EB8" fill-opacity="0.5"/><circle cx="440.99" cy="1033.8" r="5.85" fill="#377EB8" fill-opacity="0.5"/><circle cx="452.12" cy="1032.6" r="5.85" fill="#377EB8" fill-opacity="0.5"/><circle cx="463.24" cy="1024.3" r="5.85" fill="#377EB8" fill-opacity="0.5"/><circle cx="474.37" cy="1039.9" r="5.85" fill="#377EB8" fill-opacity="0.5"/><circle cx="463.24" cy="1049.0" r="5.85" fill="#377EB8" fill-opacity="0.5"/><circle cx="329.71" cy="1040.7" r="5.85" fill="#377EB8" fill-opacity="0.5"/><circle cx="340.84" cy="1042.1" r="5.85" fill="#E41A1C" fill-opacity="0.5"/><circle cx="340.84" cy="1052.4" r="5.85" fill="#E41A1C" fill-opacity="0.5"/><circle cx="340.84" cy="1057.5" r="5.85" fill="#377EB8" fill-opacity="0.5"/><circle cx="329.71" cy="1061.4" r="5.85" fill="#E41A1C" fill-opacity="0.5"/><circle cx="429.86" cy="1072.7" r="5.85" fill="#377EB8" fill-opacity="0.5"/><circle cx="452.12" cy="1070.7" r="5.85" fill="#377EB8" fill-opacity="0.5"/><circle cx="318.58" cy="1079.6" r="5.85" fill="#E41A1C" fill-opacity="0.5"/><circle cx="329.71" cy="1091.8" r="5.85" fill="#377EB8" fill-opacity="0.5"/><circle cx="351.96" cy="1095.8" r="5.85" fill="#377EB8" fill-opacity="0.5"/><circle cx="329.71" cy="1102.3" r="5.85" fill="#E41A1C" fill-opacity="0.5"/><circle cx="363.09" cy="1103.3" r="5.85" fill="#E41A1C" fill-opacity="0.5"/><circle cx="396.48" cy="1100.3" r="5.85" fill="#E41A1C" fill-opacity="0.5"/><circle cx="440.99" cy="1089.5" r="5.85" fill="#E41A1C" fill-opacity="0.5"/><circle cx="440.99" cy="1098.9" r="5.85" fill="#E41A1C" fill-opacity="0.5"/><circle cx="440.99" cy="1106.2" r="5.85" fill="#E41A1C" fill-opacity="0.5"/><circle cx="452.12" cy="1093.4" r="5.85" fill="#E41A1C" fill-opacity="0.5"/><circle cx="318.58" cy="1107.6" r="5.85" fill="#377EB8" fill-opacity="0.5"/><circle cx="340.84" cy="1109.2" r="5.85" fill="#377EB8" fill-opacity="0.5"/><circle cx="340.84" cy="1116.7" r="5.85" fill="#E41A1C" fill-opacity="0.5"/><circle cx="418.73" cy="1114.7" r="5.85" fill="#377EB8" fill-opacity="0.5"/><circle cx="440.99" cy="1121.4" r="5.85" fill="#E41A1C" fill-opacity="0.5"/><circle cx="374.22" cy="1123.4" r="5.85" fill="#E41A1C" fill-opacity="0.5"/><circle cx="351.96" cy="1128.9" r="5.85" fill="#377EB8" fill-opacity="0.5"/><circle cx="429.86" cy="1128.9" r="5.85" fill="#E41A1C" fill-opacity="0.5"/><circle cx="318.58" cy="1135.3" r="5.85" fill="#E41A1C" fill-opacity="0.5"/><circle cx="318.58" cy="1135.3" r="5.85" fill="#377EB8" fill-opacity="0.5"/><circle cx="396.48" cy="1135.3" r="5.85" fill="#E41A1C" fill-opacity="0.5"/><circle cx="440.99" cy="1137.2" r="5.85" fill="#E41A1C" fill-opacity="0.5"/><circle cx="452.12" cy="1140.0" r="5.85" fill="#377EB8" fill-opacity="0.5"/><circle cx="452.12" cy="1143.0" r="5.85" fill="#E41A1C" fill-opacity="0.5"/><circle cx="463.24" cy="1137.2" r="5.85" fill="#377EB8" fill-opacity="0.5"/><circle cx="474.37" cy="1130.9" r="5.85" fill="#E41A1C" fill-opacity="0.5"/><circle cx="374.22" cy="1141.8" r="5.85" fill="#377EB8" fill-opacity="0.5"/><circle cx="385.35" cy="1148.8" r="5.85" fill="#E41A1C" fill-opacity="0.5"/><circle cx="340.84" cy="1159.1" r="5.85" fill="#E41A1C" fill-opacity="0.5"/><circle cx="329.71" cy="1161.7" r="5.85" fill="#377EB8" fill-opacity="0.5"/><circle cx="318.58" cy="1190.9" r="5.85" fill="#E41A1C" fill-opacity="0.5"/><circle cx="340.84" cy="1190.9" r="5.85" fill="#377EB8" fill-opacity="0.5"/><circle cx="351.96" cy="1183.4" r="5.85" fill="#E41A1C" fill-opacity="0.5"/><circle cx="363.09" cy="1180.5" r="5.85" fill="#E41A1C" fill-opacity="0.5"/><circle cx="374.22" cy="1187.4" r="5.85" fill="#377EB8" fill-opacity="0.5"/><circle cx="396.48" cy="1164.7" r="5.85" fill="#E41A1C" fill-opacity="0.5"/><circle cx="407.6" cy="1159.1" r="5.85" fill="#E41A1C" fill-opacity="0.5"/><circle cx="418.73" cy="1156.4" r="5.85" fill="#377EB8" fill-opacity="0.5"/><circle cx="429.86" cy="1153.8" r="5.85" fill="#E41A1C" fill-opacity="0.5"/><circle cx="407.6" cy="1176.9" r="5.85" fill="#377EB8" fill-opacity="0.5"/><circle cx="429.86" cy="1173.6" r="5.85" fill="#377EB8" fill-opacity="0.5"/><circle cx="396.48" cy="1183.4" r="5.85" fill="#E41A1C" fill-opacity="0.5"/><circle cx="385.35" cy="1207.7" r="5.85" fill="#E41A1C" fill-opacity="0.5"/><circle cx="418.73" cy="1217.0" r="5.85" fill="#377EB8" fill-opacity="0.5"/><circle cx="474.37" cy="1156.4" r="5.85" fill="#377EB8" fill-opacity="0.5"/><circle cx="474.37" cy="1173.8" r="5.85" fill="#E41A1C" fill-opacity="0.5"/><circle cx="474.37" cy="1203.3" r="5.85" fill="#377EB8" fill-opacity="0.5"/><circle cx="385.35" cy="1311.4" r="5.85" fill="#377EB8" fill-opacity="0.5"/><circle cx="585.65" cy="988.0" r="5.85" fill="#377EB8" fill-opacity="0.5"/><circle cx="507.76" cy="998.2" r="5.85" fill="#377EB8" fill-opacity="0.5"/><circle cx="585.65" cy="1026.7" r="5.85" fill="#377EB8" fill-opacity="0.5"/><circle cx="596.78" cy="1030.7" r="5.85" fill="#377EB8" fill-opacity="0.5"/><circle cx="518.88" cy="1047.2" r="5.85" fill="#377EB8" fill-opacity="0.5"/><circle cx="585.65" cy="1046.0" r="5.85" fill="#377EB8" fill-opacity="0.5"/><circle cx="596.78" cy="1045.7" r="5.85" fill="#377EB8" fill-opacity="0.5"/><circle cx="574.52" cy="1053.4" r="5.85" fill="#377EB8" fill-opacity="0.5"/><circle cx="552.27" cy="1060.5" r="5.85" fill="#377EB8" fill-opacity="0.5"/><circle cx="574.52" cy="1062.4" r="5.85" fill="#E41A1C" fill-opacity="0.5"/><circle cx="619.04" cy="1065.4" r="5.85" fill="#E41A1C" fill-opacity="0.5"/><circle cx="652.42" cy="1013.5" r="5.85" fill="#E41A1C" fill-opacity="0.5"/><circle cx="485.5" cy="1076.2" r="5.85" fill="#377EB8" fill-opacity="0.5"/><circle cx="496.63" cy="1078.2" r="5.85" fill="#377EB8" fill-opacity="0.5"/><circle cx="507.76" cy="1079.6" r="5.85" fill="#E41A1C" fill-opacity="0.5"/><circle cx="563.4" cy="1073.7" r="5.85" fill="#377EB8" fill-opacity="0.5"/><circle cx="607.91" cy="1075.1" r="5.85" fill="#377EB8" fill-opacity="0.5"/><circle cx="585.65" cy="1089.5" r="5.85" fill="#E41A1C" fill-opacity="0.5"/><circle cx="619.04" cy="1092.0" r="5.85" fill="#E41A1C" fill-opacity="0.5"/><circle cx="652.42" cy="1090.8" r="5.85" fill="#E41A1C" fill-opacity="0.5"/><circle cx="541.14" cy="1104.3" r="5.85" fill="#377EB8" fill-opacity="0.5"/><circle cx="496.63" cy="1117.7" r="5.85" fill="#E41A1C" fill-opacity="0.5"/><circle cx="518.88" cy="1119.7" r="5.85" fill="#377EB8" fill-opacity="0.5"/><circle cx="530.01" cy="1117.7" r="5.85" fill="#E41A1C" fill-opacity="0.5"/><circle cx="552.27" cy="1114.7" r="5.85" fill="#E41A1C" fill-opacity="0.5"/><circle cx="552.27" cy="1127.0" r="5.85" fill="#E41A1C" fill-opacity="0.5"/><circle cx="630.16" cy="1112.8" r="5.85" fill="#E41A1C" fill-opacity="0.5"/><circle cx="630.16" cy="1123.4" r="5.85" fill="#E41A1C" fill-opacity="0.5"/><circle cx="630.16" cy="1123.4" r="5.85" fill="#377EB8" fill-opacity="0.5"/><circle cx="619.04" cy="1139.6" r="5.85" fill="#E41A1C" fill-opacity="0.5"/><circle cx="619.04" cy="1139.6" r="5.85" fill="#377EB8" fill-opacity="0.5"/><circle cx="596.78" cy="1144.2" r="5.85" fill="#E41A1C" fill-opacity="0.5"/><circle cx="641.29" cy="1135.3" r="5.85" fill="#377EB8" fill-opacity="0.5"/><circle cx="652.42" cy="1119.8" r="5.85" fill="#377EB8" fill-opacity="0.5"/><circle cx="496.63" cy="1153.2" r="5.85" fill="#E41A1C" fill-opacity="0.5"/><circle cx="574.52" cy="1156.4" r="5.85" fill="#E41A1C" fill-opacity="0.5"/><circle cx="630.16" cy="1159.1" r="5.85" fill="#E41A1C" fill-opacity="0.5"/><circle cx="518.88" cy="1159.1" r="5.85" fill="#E41A1C" fill-opacity="0.5"/><circle cx="507.76" cy="1167.6" r="5.85" fill="#E41A1C" fill-opacity="0.5"/><circle cx="485.5" cy="1173.9" r="5.85" fill="#E41A1C" fill-opacity="0.5"/><circle cx="552.27" cy="1176.9" r="5.85" fill="#E41A1C" fill-opacity="0.5"/><circle cx="619.04" cy="1161.7" r="5.85" fill="#E41A1C" fill-opacity="0.5"/><circle cx="530.01" cy="1194.9" r="5.85" fill="#E41A1C" fill-opacity="0.5"/><circle cx="518.88" cy="1203.2" r="5.85" fill="#E41A1C" fill-opacity="0.5"/><circle cx="574.52" cy="1207.7" r="5.85" fill="#377EB8" fill-opacity="0.5"/><circle cx="507.76" cy="1222.3" r="5.85" fill="#E41A1C" fill-opacity="0.5"/><circle cx="552.27" cy="1217.0" r="5.85" fill="#E41A1C" fill-opacity="0.5"/><circle cx="496.63" cy="1260.5" r="5.85" fill="#377EB8" fill-opacity="0.5"/><circle cx="685.8" cy="987.0" r="5.85" fill="#377EB8" fill-opacity="0.5"/><circle cx="685.8" cy="1000.8" r="5.85" fill="#377EB8" fill-opacity="0.5"/><circle cx="674.68" cy="1023.7" r="5.85" fill="#377EB8" fill-opacity="0.5"/><circle cx="797.08" cy="1025.0" r="5.85" fill="#377EB8" fill-opacity="0.5"/><circle cx="719.19" cy="1046.4" r="5.85" fill="#377EB8" fill-opacity="0.5"/><circle cx="685.8" cy="1072.7" r="5.85" fill="#377EB8" fill-opacity="0.5"/><circle cx="696.93" cy="1069.7" r="5.85" fill="#E41A1C" fill-opacity="0.5"/><circle cx="730.32" cy="1069.7" r="5.85" fill="#377EB8" fill-opacity="0.5"/><circle cx="663.55" cy="1083.5" r="5.85" fill="#E41A1C" fill-opacity="0.5"/><circle cx="663.55" cy="1092.4" r="5.85" fill="#E41A1C" fill-opacity="0.5"/><circle cx="741.44" cy="1080.6" r="5.85" fill="#377EB8" fill-opacity="0.5"/><circle cx="719.19" cy="1087.1" r="5.85" fill="#377EB8" fill-opacity="0.5"/><circle cx="696.93" cy="1092.5" r="5.85" fill="#377EB8" fill-opacity="0.5"/><circle cx="696.93" cy="1095.0" r="5.85" fill="#377EB8" fill-opacity="0.5"/><circle cx="685.8" cy="1116.1" r="5.85" fill="#377EB8" fill-opacity="0.5"/><circle cx="719.19" cy="1130.9" r="5.85" fill="#377EB8" fill-opacity="0.5"/><circle cx="674.68" cy="1144.0" r="5.85" fill="#377EB8" fill-opacity="0.5"/><circle cx="685.8" cy="1146.4" r="5.85" fill="#377EB8" fill-opacity="0.5"/><circle cx="663.55" cy="1153.2" r="5.85" fill="#377EB8" fill-opacity="0.5"/><circle cx="663.55" cy="1180.5" r="5.85" fill="#E41A1C" fill-opacity="0.5"/><circle cx="663.55" cy="1198.8" r="5.85" fill="#E41A1C" fill-opacity="0.5"/><circle cx="685.8" cy="1227.4" r="5.85" fill="#377EB8" fill-opacity="0.5"/><circle cx="874.98" cy="1037.9" r="5.85" fill="#377EB8" fill-opacity="0.5"/><circle cx="440.99" cy="1121.4" r="5.85" fill="#E41A1C" fill-opacity="0.5"/><line x1="151" y1="1120.5" x2="819.6" y2="1100.9" stroke="#E41A1C" stroke-width="3.3"/><line x1="151" y1="1099.5" x2="819.6" y2="1079.6" stroke="#377EB8" stroke-width="3.3"/><path d="M151.00,1099.21 L167.72,1099.41 L184.43,1099.59 L201.15,1099.74 L217.86,1099.85 L234.57,1099.93 L251.29,1099.98 L268.00,1099.98 L284.72,1099.94 L301.44,1099.85 L318.15,1099.70 L334.87,1099.50 L351.58,1099.24 L368.30,1098.92 L385.01,1098.53 L401.73,1098.08 L418.44,1097.57 L435.16,1096.98 L451.87,1096.34 L468.58,1095.63 L485.30,1094.86 L502.01,1094.03 L518.73,1093.15 L535.45,1092.22 L552.16,1091.25 L568.88,1090.23 L585.59,1089.17 L602.31,1088.08 L619.02,1086.96 L635.74,1085.81 L652.45,1084.63 L669.17,1083.43 L685.88,1082.20 L702.60,1080.96 L719.31,1079.70 L736.02,1078.42 L752.74,1077.13 L769.46,1075.82 L786.17,1074.51 L802.88,1073.18 L819.60,1071.84 L819.60,1129.96 L802.88,1129.60 L786.17,1129.25 L769.46,1128.92 L752.74,1128.59 L736.02,1128.28 L719.31,1127.98 L702.60,1127.70 L685.88,1127.44 L669.17,1127.19 L652.45,1126.97 L635.74,1126.77 L619.02,1126.60 L602.31,1126.46 L585.59,1126.35 L568.88,1126.27 L552.16,1126.23 L535.45,1126.24 L518.73,1126.29 L502.01,1126.39 L485.30,1126.54 L468.58,1126.75 L451.87,1127.02 L435.16,1127.36 L418.44,1127.75 L401.73,1128.22 L385.01,1128.75 L368.30,1129.34 L351.58,1130.00 L334.87,1130.72 L318.15,1131.50 L301.44,1132.33 L284.72,1133.22 L268.00,1134.16 L251.29,1135.14 L234.57,1136.17 L217.86,1137.23 L201.15,1138.32 L184.43,1139.45 L167.72,1140.61 L151.00,1141.79 Z" fill="#E41A1C" fill-opacity="0.15"/><path d="M151.00,1076.90 L167.72,1077.06 L184.43,1077.21 L201.15,1077.33 L217.86,1077.43 L234.57,1077.50 L251.29,1077.54 L268.00,1077.55 L284.72,1077.52 L301.44,1077.46 L318.15,1077.35 L334.87,1077.20 L351.58,1077.01 L368.30,1076.77 L385.01,1076.47 L401.73,1076.12 L418.44,1075.72 L435.16,1075.27 L451.87,1074.75 L468.58,1074.19 L485.30,1073.56 L502.01,1072.88 L518.73,1072.16 L535.45,1071.38 L552.16,1070.55 L568.88,1069.68 L585.59,1068.77 L602.31,1067.82 L619.02,1066.83 L635.74,1065.81 L652.45,1064.75 L669.17,1063.67 L685.88,1062.57 L702.60,1061.44 L719.31,1060.29 L736.02,1059.12 L752.74,1057.93 L769.46,1056.72 L786.17,1055.50 L802.88,1054.27 L819.60,1053.02 L819.60,1106.18 L802.88,1105.93 L786.17,1105.69 L769.46,1105.46 L752.74,1105.25 L736.02,1105.06 L719.31,1104.88 L702.60,1104.73 L685.88,1104.59 L669.17,1104.48 L652.45,1104.40 L635.74,1104.34 L619.02,1104.31 L602.31,1104.32 L585.59,1104.36 L568.88,1104.45 L552.16,1104.57 L535.45,1104.74 L518.73,1104.95 L502.01,1105.22 L485.30,1105.54 L468.58,1105.91 L451.87,1106.34 L435.16,1106.82 L418.44,1107.36 L401.73,1107.95 L385.01,1108.60 L368.30,1109.30 L351.58,1110.05 L334.87,1110.85 L318.15,1111.70 L301.44,1112.59 L284.72,1113.52 L268.00,1114.49 L251.29,1115.49 L234.57,1116.53 L217.86,1117.59 L201.15,1118.68 L184.43,1119.80 L167.72,1120.94 L151.00,1122.10 Z" fill="#377EB8" fill-opacity="0.15"/></g><rect x="92.25" y="848.3" width="819.75" height="678.2" fill="none" stroke="#333" stroke-width="2.5"/><line x1="85.25" x2="92.25" y1="1496.40" y2="1496.40" stroke="#333" stroke-width="2.7"/><text x="79.8" y="1505.60" text-anchor="end" font-size="23.6" fill="#4d4d4d">0.01</text><line x1="85.25" x2="92.25" y1="1430.72" y2="1430.72" stroke="#333" stroke-width="2.7"/><text x="79.8" y="1439.92" text-anchor="end" font-size="23.6" fill="#4d4d4d">0.02</text><line x1="85.25" x2="92.25" y1="1343.88" y2="1343.88" stroke="#333" stroke-width="2.7"/><text x="79.8" y="1353.08" text-anchor="end" font-size="23.6" fill="#4d4d4d">0.05</text><line x1="85.25" x2="92.25" y1="1278.20" y2="1278.20" stroke="#333" stroke-width="2.7"/><text x="79.8" y="1287.40" text-anchor="end" font-size="23.6" fill="#4d4d4d">0.10</text><line x1="85.25" x2="92.25" y1="1212.52" y2="1212.52" stroke="#333" stroke-width="2.7"/><text x="79.8" y="1221.72" text-anchor="end" font-size="23.6" fill="#4d4d4d">0.20</text><line x1="85.25" x2="92.25" y1="1125.68" y2="1125.68" stroke="#333" stroke-width="2.7"/><text x="79.8" y="1134.88" text-anchor="end" font-size="23.6" fill="#4d4d4d">0.50</text><line x1="85.25" x2="92.25" y1="1060.00" y2="1060.00" stroke="#333" stroke-width="2.7"/><text x="79.8" y="1069.20" text-anchor="end" font-size="23.6" fill="#4d4d4d">1.00</text><line x1="85.25" x2="92.25" y1="994.32" y2="994.32" stroke="#333" stroke-width="2.7"/><text x="79.8" y="1003.52" text-anchor="end" font-size="23.6" fill="#4d4d4d">2.00</text><line x1="85.25" x2="92.25" y1="907.48" y2="907.48" stroke="#333" stroke-width="2.7"/><text x="79.8" y="916.68" text-anchor="end" font-size="23.6" fill="#4d4d4d">5.00</text><line x1="207.30" x2="207.30" y1="1526.5" y2="1533.5" stroke="#333" stroke-width="2.7"/><text x="207.30" y="1557.00" text-anchor="middle" font-size="23.6" fill="#4d4d4d">25</text><line x1="485.50" x2="485.50" y1="1526.5" y2="1533.5" stroke="#333" stroke-width="2.7"/><text x="485.50" y="1557.00" text-anchor="middle" font-size="23.6" fill="#4d4d4d">50</text><line x1="763.70" x2="763.70" y1="1526.5" y2="1533.5" stroke="#333" stroke-width="2.7"/><text x="763.70" y="1557.00" text-anchor="middle" font-size="23.6" fill="#4d4d4d">75</text><text x="501.70" y="1588.50" text-anchor="middle" font-size="27.8" fill="#000">Age</text><text transform="translate(21,1187.40) rotate(-90)" x="0" y="0" text-anchor="middle" font-size="27.8" fill="#000">Serum t−tau (pg/mL)</text><text x="92" y="829.10" font-size="27.8" fill="#000">b</text><text x="507.95" y="1362.00" font-size="23.7" fill="#444">R<tspan font-size="16.3" dy="-10.8">2</tspan><tspan dy="10.8"> Age=0.005, p=0.32</tspan></text><text x="507.95" y="1400.80" font-size="23.7" fill="#444">R<tspan font-size="16.3" dy="-10.8">2</tspan><tspan dy="10.8"> ECT particpants=0.02, p=0.036</tspan></text></g><g id="panel-c"><defs><clipPath id="clipc"><rect x="92.25" y="1662.0" width="819.75" height="677.9000000000001"/></clipPath></defs><g clip-path="url(#clipc)"><line x1="92.25" x2="912.0" y1="2261.67" y2="2261.67" stroke="#ebebeb" stroke-width="1.6"/><line x1="92.25" x2="912.0" y1="2134.76" y2="2134.76" stroke="#ebebeb" stroke-width="1.6"/><line x1="92.25" x2="912.0" y1="2007.85" y2="2007.85" stroke="#ebebeb" stroke-width="1.6"/><line x1="92.25" x2="912.0" y1="1861.73" y2="1861.73" stroke="#ebebeb" stroke-width="1.6"/><line x1="92.25" x2="912.0" y1="1745.92" y2="1745.92" stroke="#ebebeb" stroke-width="1.6"/><line x1="346.40" x2="346.40" y1="1662.0" y2="2339.9" stroke="#ebebeb" stroke-width="1.6"/><line x1="624.60" x2="624.60" y1="1662.0" y2="2339.9" stroke="#ebebeb" stroke-width="1.6"/><line x1="902.80" x2="902.80" y1="1662.0" y2="2339.9" stroke="#ebebeb" stroke-width="1.6"/><line x1="92.25" x2="912.0" y1="2334.73" y2="2334.73" stroke="#ebebeb" stroke-width="2.7"/><line x1="92.25" x2="912.0" y1="2188.61" y2="2188.61" stroke="#ebebeb" stroke-width="2.7"/><line x1="92.25" x2="912.0" y1="2080.92" y2="2080.92" stroke="#ebebeb" stroke-width="2.7"/><line x1="92.25" x2="912.0" y1="1934.79" y2="1934.79" stroke="#ebebeb" stroke-width="2.7"/><line x1="92.25" x2="912.0" y1="1788.66" y2="1788.66" stroke="#ebebeb" stroke-width="2.7"/><line x1="92.25" x2="912.0" y1="1703.19" y2="1703.19" stroke="#ebebeb" stroke-width="2.7"/><line x1="207.30" x2="207.30" y1="1662.0" y2="2339.9" stroke="#ebebeb" stroke-width="2.7"/><line x1="485.50" x2="485.50" y1="1662.0" y2="2339.9" stroke="#ebebeb" stroke-width="2.7"/><line x1="763.70" x2="763.70" y1="1662.0" y2="2339.9" stroke="#ebebeb" stroke-width="2.7"/><circle cx="274.07" cy="1692.0" r="5.85" fill="#E41A1C" fill-opacity="0.5"/><circle cx="274.07" cy="1857.8" r="5.85" fill="#E41A1C" fill-opacity="0.5"/><circle cx="440.99" cy="1865.1" r="5.85" fill="#E41A1C" fill-opacity="0.5"/><circle cx="251.81" cy="1926.2" r="5.85" fill="#E41A1C" fill-opacity="0.5"/><circle cx="240.68" cy="1945.2" r="5.85" fill="#E41A1C" fill-opacity="0.5"/><circle cx="274.07" cy="1964.3" r="5.85" fill="#E41A1C" fill-opacity="0.5"/><circle cx="274.07" cy="1974.6" r="5.85" fill="#E41A1C" fill-opacity="0.5"/><circle cx="185.04" cy="1978.5" r="5.85" fill="#377EB8" fill-opacity="0.5"/><circle cx="251.81" cy="1986.0" r="5.85" fill="#E41A1C" fill-opacity="0.5"/><circle cx="251.81" cy="1991.0" r="5.85" fill="#E41A1C" fill-opacity="0.5"/><circle cx="229.56" cy="2000.8" r="5.85" fill="#E41A1C" fill-opacity="0.5"/><circle cx="229.56" cy="2002.4" r="5.85" fill="#E41A1C" fill-opacity="0.5"/><circle cx="218.43" cy="2005.8" r="5.85" fill="#377EB8" fill-opacity="0.5"/><circle cx="162.79" cy="2012.1" r="5.85" fill="#E41A1C" fill-opacity="0.5"/><circle cx="240.68" cy="2021.7" r="5.85" fill="#377EB8" fill-opacity="0.5"/><circle cx="251.81" cy="2032.2" r="5.85" fill="#377EB8" fill-opacity="0.5"/><circle cx="173.92" cy="2050.7" r="5.85" fill="#377EB8" fill-opacity="0.5"/><circle cx="185.04" cy="2045.4" r="5.85" fill="#E41A1C" fill-opacity="0.5"/><circle cx="196.17" cy="2048.9" r="5.85" fill="#E41A1C" fill-opacity="0.5"/><circle cx="229.56" cy="2059.2" r="5.85" fill="#377EB8" fill-opacity="0.5"/><circle cx="240.68" cy="2054.3" r="5.85" fill="#377EB8" fill-opacity="0.5"/><circle cx="229.56" cy="2067.7" r="5.85" fill="#E41A1C" fill-opacity="0.5"/><circle cx="262.94" cy="2057.6" r="5.85" fill="#377EB8" fill-opacity="0.5"/><circle cx="285.2" cy="2049.3" r="5.85" fill="#E41A1C" fill-opacity="0.5"/><circle cx="296.32" cy="2058.8" r="5.85" fill="#377EB8" fill-opacity="0.5"/><circle cx="296.32" cy="2066.1" r="5.85" fill="#377EB8" fill-opacity="0.5"/><circle cx="185.04" cy="2074.0" r="5.85" fill="#377EB8" fill-opacity="0.5"/><circle cx="196.17" cy="2073.0" r="5.85" fill="#E41A1C" fill-opacity="0.5"/><circle cx="196.17" cy="2078.0" r="5.85" fill="#E41A1C" fill-opacity="0.5"/><circle cx="207.3" cy="2082.9" r="5.85" fill="#E41A1C" fill-opacity="0.5"/><circle cx="251.81" cy="2077.6" r="5.85" fill="#E41A1C" fill-opacity="0.5"/><circle cx="262.94" cy="2072.0" r="5.85" fill="#E41A1C" fill-opacity="0.5"/><circle cx="185.04" cy="2099.3" r="5.85" fill="#377EB8" fill-opacity="0.5"/><circle cx="196.17" cy="2099.3" r="5.85" fill="#E41A1C" fill-opacity="0.5"/><circle cx="196.17" cy="2099.3" r="5.85" fill="#377EB8" fill-opacity="0.5"/><circle cx="196.17" cy="2114.5" r="5.85" fill="#377EB8" fill-opacity="0.5"/><circle cx="274.07" cy="2094.3" r="5.85" fill="#E41A1C" fill-opacity="0.5"/><circle cx="262.94" cy="2101.2" r="5.85" fill="#E41A1C" fill-opacity="0.5"/><circle cx="140.53" cy="2125.3" r="5.85" fill="#377EB8" fill-opacity="0.5"/><circle cx="296.32" cy="2113.9" r="5.85" fill="#377EB8" fill-opacity="0.5"/><circle cx="262.94" cy="2134.2" r="5.85" fill="#E41A1C" fill-opacity="0.5"/><circle cx="162.79" cy="2159.9" r="5.85" fill="#E41A1C" fill-opacity="0.5"/><circle cx="240.68" cy="2157.3" r="5.85" fill="#E41A1C" fill-opacity="0.5"/><circle cx="285.2" cy="2160.8" r="5.85" fill="#E41A1C" fill-opacity="0.5"/><circle cx="240.68" cy="2173.9" r="5.85" fill="#E41A1C" fill-opacity="0.5"/><circle cx="262.94" cy="2172.3" r="5.85" fill="#377EB8" fill-opacity="0.5"/><circle cx="251.81" cy="2181.3" r="5.85" fill="#377EB8" fill-opacity="0.5"/><circle cx="251.81" cy="2185.3" r="5.85" fill="#377EB8" fill-opacity="0.5"/><circle cx="162.79" cy="2183.7" r="5.85" fill="#377EB8" fill-opacity="0.5"/><circle cx="207.3" cy="2197.9" r="5.85" fill="#377EB8" fill-opacity="0.5"/><circle cx="262.94" cy="2187.2" r="5.85" fill="#E41A1C" fill-opacity="0.5"/><circle cx="240.68" cy="2215.3" r="5.85" fill="#E41A1C" fill-opacity="0.5"/><circle cx="285.2" cy="2213.7" r="5.85" fill="#E41A1C" fill-opacity="0.5"/><circle cx="162.79" cy="2276.0" r="5.85" fill="#377EB8" fill-opacity="0.5"/><circle cx="262.94" cy="2266.6" r="5.85" fill="#377EB8" fill-opacity="0.5"/><circle cx="307.45" cy="1954.9" r="5.85" fill="#E41A1C" fill-opacity="0.5"/><circle cx="318.58" cy="1954.5" r="5.85" fill="#E41A1C" fill-opacity="0.5"/><circle cx="307.45" cy="1966.7" r="5.85" fill="#E41A1C" fill-opacity="0.5"/><circle cx="463.24" cy="1922.3" r="5.85" fill="#377EB8" fill-opacity="0.5"/><circle cx="452.12" cy="1974.2" r="5.85" fill="#377EB8" fill-opacity="0.5"/><circle cx="452.12" cy="1990.4" r="5.85" fill="#377EB8" fill-opacity="0.5"/><circle cx="396.48" cy="1991.0" r="5.85" fill="#377EB8" fill-opacity="0.5"/><circle cx="351.96" cy="2013.7" r="5.85" fill="#377EB8" fill-opacity="0.5"/><circle cx="318.58" cy="2019.1" r="5.85" fill="#E41A1C" fill-opacity="0.5"/><circle cx="307.45" cy="2028.2" r="5.85" fill="#377EB8" fill-opacity="0.5"/><circle cx="340.84" cy="2025.7" r="5.85" fill="#E41A1C" fill-opacity="0.5"/><circle cx="318.58" cy="2036.1" r="5.85" fill="#E41A1C" fill-opacity="0.5"/><circle cx="329.71" cy="2033.2" r="5.85" fill="#377EB8" fill-opacity="0.5"/><circle cx="363.09" cy="2033.6" r="5.85" fill="#E41A1C" fill-opacity="0.5"/><circle cx="363.09" cy="2033.6" r="5.85" fill="#E41A1C" fill-opacity="0.5"/><circle cx="351.96" cy="2042.4" r="5.85" fill="#377EB8" fill-opacity="0.5"/><circle cx="329.71" cy="2052.9" r="5.85" fill="#377EB8" fill-opacity="0.5"/><circle cx="340.84" cy="2064.1" r="5.85" fill="#377EB8" fill-opacity="0.5"/><circle cx="374.22" cy="2059.2" r="5.85" fill="#377EB8" fill-opacity="0.5"/><circle cx="396.48" cy="2043.0" r="5.85" fill="#E41A1C" fill-opacity="0.5"/><circle cx="396.48" cy="2057.6" r="5.85" fill="#E41A1C" fill-opacity="0.5"/><circle cx="396.48" cy="2062.8" r="5.85" fill="#E41A1C" fill-opacity="0.5"/><circle cx="418.73" cy="2050.3" r="5.85" fill="#377EB8" fill-opacity="0.5"/><circle cx="418.73" cy="2058.2" r="5.85" fill="#377EB8" fill-opacity="0.5"/><circle cx="429.86" cy="2056.2" r="5.85" fill="#E41A1C" fill-opacity="0.5"/><circle cx="440.99" cy="2054.3" r="5.85" fill="#E41A1C" fill-opacity="0.5"/><circle cx="440.99" cy="2038.5" r="5.85" fill="#377EB8" fill-opacity="0.5"/><circle cx="452.12" cy="2024.7" r="5.85" fill="#377EB8" fill-opacity="0.5"/><circle cx="452.12" cy="2030.6" r="5.85" fill="#E41A1C" fill-opacity="0.5"/><circle cx="374.22" cy="2079.9" r="5.85" fill="#377EB8" fill-opacity="0.5"/><circle cx="385.35" cy="2075.6" r="5.85" fill="#E41A1C" fill-opacity="0.5"/><circle cx="407.6" cy="2071.4" r="5.85" fill="#377EB8" fill-opacity="0.5"/><circle cx="407.6" cy="2081.3" r="5.85" fill="#E41A1C" fill-opacity="0.5"/><circle cx="340.84" cy="2087.8" r="5.85" fill="#E41A1C" fill-opacity="0.5"/><circle cx="418.73" cy="2092.8" r="5.85" fill="#377EB8" fill-opacity="0.5"/><circle cx="363.09" cy="2099.1" r="5.85" fill="#E41A1C" fill-opacity="0.5"/><circle cx="318.58" cy="2106.0" r="5.85" fill="#377EB8" fill-opacity="0.5"/><circle cx="340.84" cy="2106.6" r="5.85" fill="#377EB8" fill-opacity="0.5"/><circle cx="396.48" cy="2115.5" r="5.85" fill="#E41A1C" fill-opacity="0.5"/><circle cx="396.48" cy="2124.7" r="5.85" fill="#E41A1C" fill-opacity="0.5"/><circle cx="385.35" cy="2124.3" r="5.85" fill="#377EB8" fill-opacity="0.5"/><circle cx="440.99" cy="2119.4" r="5.85" fill="#E41A1C" fill-opacity="0.5"/><circle cx="440.99" cy="2079.9" r="5.85" fill="#E41A1C" fill-opacity="0.5"/><circle cx="452.12" cy="2080.5" r="5.85" fill="#E41A1C" fill-opacity="0.5"/><circle cx="463.24" cy="2130.6" r="5.85" fill="#377EB8" fill-opacity="0.5"/><circle cx="318.58" cy="2131.8" r="5.85" fill="#377EB8" fill-opacity="0.5"/><circle cx="329.71" cy="2136.2" r="5.85" fill="#E41A1C" fill-opacity="0.5"/><circle cx="351.96" cy="2139.1" r="5.85" fill="#E41A1C" fill-opacity="0.5"/><circle cx="374.22" cy="2133.2" r="5.85" fill="#E41A1C" fill-opacity="0.5"/><circle cx="340.84" cy="2156.5" r="5.85" fill="#377EB8" fill-opacity="0.5"/><circle cx="329.71" cy="2163.8" r="5.85" fill="#377EB8" fill-opacity="0.5"/><circle cx="429.86" cy="2159.9" r="5.85" fill="#E41A1C" fill-opacity="0.5"/><circle cx="429.86" cy="2168.1" r="5.85" fill="#377EB8" fill-opacity="0.5"/><circle cx="440.99" cy="2170.8" r="5.85" fill="#E41A1C" fill-opacity="0.5"/><circle cx="418.73" cy="2174.7" r="5.85" fill="#377EB8" fill-opacity="0.5"/><circle cx="463.24" cy="2156.9" r="5.85" fill="#377EB8" fill-opacity="0.5"/><circle cx="329.71" cy="2198.5" r="5.85" fill="#377EB8" fill-opacity="0.5"/><circle cx="329.71" cy="2228.7" r="5.85" fill="#E41A1C" fill-opacity="0.5"/><circle cx="340.84" cy="2228.1" r="5.85" fill="#E41A1C" fill-opacity="0.5"/><circle cx="385.35" cy="2246.2" r="5.85" fill="#E41A1C" fill-opacity="0.5"/><circle cx="440.99" cy="2203.8" r="5.85" fill="#E41A1C" fill-opacity="0.5"/><circle cx="429.86" cy="2216.2" r="5.85" fill="#377EB8" fill-opacity="0.5"/><circle cx="307.45" cy="2308.0" r="5.85" fill="#377EB8" fill-opacity="0.5"/><circle cx="429.86" cy="2309.4" r="5.85" fill="#377EB8" fill-opacity="0.5"/><circle cx="619.04" cy="1869.6" r="5.85" fill="#E41A1C" fill-opacity="0.5"/><circle cx="585.65" cy="1886.0" r="5.85" fill="#E41A1C" fill-opacity="0.5"/><circle cx="574.52" cy="1892.9" r="5.85" fill="#E41A1C" fill-opacity="0.5"/><circle cx="630.16" cy="1894.4" r="5.85" fill="#E41A1C" fill-opacity="0.5"/><circle cx="596.78" cy="1914.4" r="5.85" fill="#E41A1C" fill-opacity="0.5"/><circle cx="619.04" cy="1910.7" r="5.85" fill="#377EB8" fill-opacity="0.5"/><circle cx="630.16" cy="1912.5" r="5.85" fill="#377EB8" fill-opacity="0.5"/><circle cx="574.52" cy="1928.4" r="5.85" fill="#377EB8" fill-opacity="0.5"/><circle cx="619.04" cy="1935.6" r="5.85" fill="#E41A1C" fill-opacity="0.5"/><circle cx="518.88" cy="1935.7" r="5.85" fill="#377EB8" fill-opacity="0.5"/><circle cx="530.01" cy="1946.2" r="5.85" fill="#E41A1C" fill-opacity="0.5"/><circle cx="552.27" cy="1941.6" r="5.85" fill="#E41A1C" fill-opacity="0.5"/><circle cx="563.4" cy="1950.5" r="5.85" fill="#377EB8" fill-opacity="0.5"/><circle cx="552.27" cy="1965.3" r="5.85" fill="#377EB8" fill-opacity="0.5"/><circle cx="585.65" cy="1974.8" r="5.85" fill="#377EB8" fill-opacity="0.5"/><circle cx="630.16" cy="1974.7" r="5.85" fill="#E41A1C" fill-opacity="0.5"/><circle cx="574.52" cy="1987.0" r="5.85" fill="#E41A1C" fill-opacity="0.5"/><circle cx="596.78" cy="1991.0" r="5.85" fill="#377EB8" fill-opacity="0.5"/><circle cx="607.91" cy="1988.4" r="5.85" fill="#377EB8" fill-opacity="0.5"/><circle cx="530.01" cy="1994.9" r="5.85" fill="#E41A1C" fill-opacity="0.5"/><circle cx="541.14" cy="2000.8" r="5.85" fill="#377EB8" fill-opacity="0.5"/><circle cx="552.27" cy="2002.3" r="5.85" fill="#E41A1C" fill-opacity="0.5"/><circle cx="496.63" cy="2017.4" r="5.85" fill="#377EB8" fill-opacity="0.5"/><circle cx="552.27" cy="2020.3" r="5.85" fill="#E41A1C" fill-opacity="0.5"/><circle cx="474.37" cy="2030.0" r="5.85" fill="#E41A1C" fill-opacity="0.5"/><circle cx="585.65" cy="2028.2" r="5.85" fill="#377EB8" fill-opacity="0.5"/><circle cx="507.76" cy="2041.4" r="5.85" fill="#E41A1C" fill-opacity="0.5"/><circle cx="507.76" cy="2049.3" r="5.85" fill="#E41A1C" fill-opacity="0.5"/><circle cx="474.37" cy="2055.9" r="5.85" fill="#377EB8" fill-opacity="0.5"/><circle cx="474.37" cy="2061.2" r="5.85" fill="#377EB8" fill-opacity="0.5"/><circle cx="485.5" cy="2064.1" r="5.85" fill="#E41A1C" fill-opacity="0.5"/><circle cx="496.63" cy="2066.5" r="5.85" fill="#E41A1C" fill-opacity="0.5"/><circle cx="507.76" cy="2068.5" r="5.85" fill="#E41A1C" fill-opacity="0.5"/><circle cx="507.76" cy="2077.0" r="5.85" fill="#377EB8" fill-opacity="0.5"/><circle cx="518.88" cy="2077.6" r="5.85" fill="#377EB8" fill-opacity="0.5"/><circle cx="485.5" cy="2084.9" r="5.85" fill="#377EB8" fill-opacity="0.5"/><circle cx="630.16" cy="2044.8" r="5.85" fill="#E41A1C" fill-opacity="0.5"/><circle cx="619.04" cy="2077.8" r="5.85" fill="#E41A1C" fill-opacity="0.5"/><circle cx="552.27" cy="2110.5" r="5.85" fill="#E41A1C" fill-opacity="0.5"/><circle cx="574.52" cy="2118.4" r="5.85" fill="#377EB8" fill-opacity="0.5"/><circle cx="496.63" cy="2123.3" r="5.85" fill="#377EB8" fill-opacity="0.5"/><circle cx="496.63" cy="2128.7" r="5.85" fill="#E41A1C" fill-opacity="0.5"/><circle cx="474.37" cy="2141.5" r="5.85" fill="#E41A1C" fill-opacity="0.5"/><circle cx="474.37" cy="2158.9" r="5.85" fill="#377EB8" fill-opacity="0.5"/><circle cx="585.65" cy="2156.9" r="5.85" fill="#377EB8" fill-opacity="0.5"/><circle cx="518.88" cy="2165.2" r="5.85" fill="#E41A1C" fill-opacity="0.5"/><circle cx="518.88" cy="2189.6" r="5.85" fill="#E41A1C" fill-opacity="0.5"/><circle cx="596.78" cy="2226.1" r="5.85" fill="#377EB8" fill-opacity="0.5"/><circle cx="652.42" cy="1753.7" r="5.85" fill="#377EB8" fill-opacity="0.5"/><circle cx="719.19" cy="1751.7" r="5.85" fill="#377EB8" fill-opacity="0.5"/><circle cx="741.44" cy="1762.8" r="5.85" fill="#377EB8" fill-opacity="0.5"/><circle cx="641.29" cy="1798.2" r="5.85" fill="#377EB8" fill-opacity="0.5"/><circle cx="663.55" cy="1810.6" r="5.85" fill="#E41A1C" fill-opacity="0.5"/><circle cx="619.04" cy="1817.8" r="5.85" fill="#E41A1C" fill-opacity="0.5"/><circle cx="719.19" cy="1819.0" r="5.85" fill="#377EB8" fill-opacity="0.5"/><circle cx="685.8" cy="1872.9" r="5.85" fill="#377EB8" fill-opacity="0.5"/><circle cx="696.93" cy="1878.9" r="5.85" fill="#E41A1C" fill-opacity="0.5"/><circle cx="797.08" cy="1879.2" r="5.85" fill="#377EB8" fill-opacity="0.5"/><circle cx="685.8" cy="1887.2" r="5.85" fill="#377EB8" fill-opacity="0.5"/><circle cx="652.42" cy="1896.1" r="5.85" fill="#E41A1C" fill-opacity="0.5"/><circle cx="674.68" cy="1901.4" r="5.85" fill="#377EB8" fill-opacity="0.5"/><circle cx="696.93" cy="1905.0" r="5.85" fill="#377EB8" fill-opacity="0.5"/><circle cx="685.8" cy="1918.2" r="5.85" fill="#377EB8" fill-opacity="0.5"/><circle cx="685.8" cy="1920.0" r="5.85" fill="#377EB8" fill-opacity="0.5"/><circle cx="719.19" cy="1932.0" r="5.85" fill="#377EB8" fill-opacity="0.5"/><circle cx="685.8" cy="1937.0" r="5.85" fill="#377EB8" fill-opacity="0.5"/><circle cx="685.8" cy="1944.9" r="5.85" fill="#377EB8" fill-opacity="0.5"/><circle cx="696.93" cy="1941.9" r="5.85" fill="#377EB8" fill-opacity="0.5"/><circle cx="663.55" cy="1952.8" r="5.85" fill="#377EB8" fill-opacity="0.5"/><circle cx="730.32" cy="1953.3" r="5.85" fill="#377EB8" fill-opacity="0.5"/><circle cx="674.68" cy="1967.6" r="5.85" fill="#377EB8" fill-opacity="0.5"/><circle cx="663.55" cy="1979.4" r="5.85" fill="#E41A1C" fill-opacity="0.5"/><circle cx="663.55" cy="1982.8" r="5.85" fill="#E41A1C" fill-opacity="0.5"/><circle cx="663.55" cy="2013.9" r="5.85" fill="#E41A1C" fill-opacity="0.5"/><circle cx="652.42" cy="2040.1" r="5.85" fill="#E41A1C" fill-opacity="0.5"/><circle cx="874.98" cy="1912.7" r="5.85" fill="#377EB8" fill-opacity="0.5"/><circle cx="185.04" cy="2099.3" r="5.85" fill="#377EB8" fill-opacity="0.5"/><circle cx="340.84" cy="2087.8" r="5.85" fill="#E41A1C" fill-opacity="0.5"/><line x1="151" y1="2121.0" x2="819.6" y2="1891.0" stroke="#E41A1C" stroke-width="3.3"/><line x1="151" y1="2134.3" x2="819.6" y2="1904.1" stroke="#377EB8" stroke-width="3.3"/><path d="M151.00,2091.90 L167.72,2087.09 L184.43,2082.26 L201.15,2077.38 L217.86,2072.47 L234.57,2067.51 L251.29,2062.50 L268.00,2057.43 L284.72,2052.31 L301.44,2047.12 L318.15,2041.86 L334.87,2036.53 L351.58,2031.12 L368.30,2025.62 L385.01,2020.05 L401.73,2014.38 L418.44,2008.62 L435.16,2002.78 L451.87,1996.85 L468.58,1990.83 L485.30,1984.73 L502.01,1978.55 L518.73,1972.30 L535.45,1965.98 L552.16,1959.59 L568.88,1953.15 L585.59,1946.65 L602.31,1940.11 L619.02,1933.52 L635.74,1926.89 L652.45,1920.22 L669.17,1913.52 L685.88,1906.79 L702.60,1900.03 L719.31,1893.24 L736.02,1886.44 L752.74,1879.61 L769.46,1872.77 L786.17,1865.91 L802.88,1859.03 L819.60,1852.14 L819.60,1929.86 L802.88,1934.47 L786.17,1939.09 L769.46,1943.73 L752.74,1948.39 L736.02,1953.06 L719.31,1957.76 L702.60,1962.47 L685.88,1967.21 L669.17,1971.98 L652.45,1976.78 L635.74,1981.61 L619.02,1986.48 L602.31,1991.39 L585.59,1996.35 L568.88,2001.35 L552.16,2006.41 L535.45,2011.52 L518.73,2016.70 L502.01,2021.95 L485.30,2027.27 L468.58,2032.67 L451.87,2038.15 L435.16,2043.72 L418.44,2049.38 L401.73,2055.12 L385.01,2060.95 L368.30,2066.88 L351.58,2072.88 L334.87,2078.97 L318.15,2085.14 L301.44,2091.38 L284.72,2097.69 L268.00,2104.07 L251.29,2110.50 L234.57,2116.99 L217.86,2123.53 L201.15,2130.12 L184.43,2136.74 L167.72,2143.41 L151.00,2150.10 Z" fill="#E41A1C" fill-opacity="0.15"/><path d="M151.00,2102.71 L167.72,2097.96 L184.43,2093.18 L201.15,2088.37 L217.86,2083.54 L234.57,2078.66 L251.29,2073.75 L268.00,2068.79 L284.72,2063.79 L301.44,2058.74 L318.15,2053.63 L334.87,2048.46 L351.58,2043.23 L368.30,2037.92 L385.01,2032.54 L401.73,2027.08 L418.44,2021.54 L435.16,2015.92 L451.87,2010.21 L468.58,2004.41 L485.30,1998.53 L502.01,1992.56 L518.73,1986.51 L535.45,1980.38 L552.16,1974.17 L568.88,1967.90 L585.59,1961.56 L602.31,1955.16 L619.02,1948.70 L635.74,1942.19 L652.45,1935.64 L669.17,1929.04 L685.88,1922.41 L702.60,1915.74 L719.31,1909.03 L736.02,1902.30 L752.74,1895.54 L769.46,1888.76 L786.17,1881.96 L802.88,1875.14 L819.60,1868.29 L819.60,1939.91 L802.88,1944.57 L786.17,1949.26 L769.46,1953.97 L752.74,1958.70 L736.02,1963.45 L719.31,1968.23 L702.60,1973.03 L685.88,1977.87 L669.17,1982.75 L652.45,1987.66 L635.74,1992.62 L619.02,1997.62 L602.31,2002.67 L585.59,2007.78 L568.88,2012.95 L552.16,2018.19 L535.45,2023.49 L518.73,2028.87 L502.01,2034.33 L485.30,2039.87 L468.58,2045.50 L451.87,2051.21 L435.16,2057.01 L418.44,2062.90 L401.73,2068.87 L385.01,2074.92 L368.30,2081.05 L351.58,2087.25 L334.87,2093.53 L318.15,2099.87 L301.44,2106.27 L284.72,2112.73 L268.00,2119.24 L251.29,2125.79 L234.57,2132.39 L217.86,2139.02 L201.15,2145.70 L184.43,2152.40 L167.72,2159.13 L151.00,2165.89 Z" fill="#377EB8" fill-opacity="0.15"/></g><rect x="92.25" y="1662.0" width="819.75" height="677.9000000000001" fill="none" stroke="#333" stroke-width="2.5"/><line x1="85.25" x2="92.25" y1="2334.73" y2="2334.73" stroke="#333" stroke-width="2.7"/><text x="79.8" y="2343.93" text-anchor="end" font-size="23.6" fill="#4d4d4d">15</text><line x1="85.25" x2="92.25" y1="2188.61" y2="2188.61" stroke="#333" stroke-width="2.7"/><text x="79.8" y="2197.81" text-anchor="end" font-size="23.6" fill="#4d4d4d">30</text><line x1="85.25" x2="92.25" y1="2080.92" y2="2080.92" stroke="#333" stroke-width="2.7"/><text x="79.8" y="2090.12" text-anchor="end" font-size="23.6" fill="#4d4d4d">50</text><line x1="85.25" x2="92.25" y1="1934.79" y2="1934.79" stroke="#333" stroke-width="2.7"/><text x="79.8" y="1943.99" text-anchor="end" font-size="23.6" fill="#4d4d4d">100</text><line x1="85.25" x2="92.25" y1="1788.66" y2="1788.66" stroke="#333" stroke-width="2.7"/><text x="79.8" y="1797.86" text-anchor="end" font-size="23.6" fill="#4d4d4d">200</text><line x1="85.25" x2="92.25" y1="1703.19" y2="1703.19" stroke="#333" stroke-width="2.7"/><text x="79.8" y="1712.39" text-anchor="end" font-size="23.6" fill="#4d4d4d">300</text><line x1="207.30" x2="207.30" y1="2339.9" y2="2346.9" stroke="#333" stroke-width="2.7"/><text x="207.30" y="2370.40" text-anchor="middle" font-size="23.6" fill="#4d4d4d">25</text><line x1="485.50" x2="485.50" y1="2339.9" y2="2346.9" stroke="#333" stroke-width="2.7"/><text x="485.50" y="2370.40" text-anchor="middle" font-size="23.6" fill="#4d4d4d">50</text><line x1="763.70" x2="763.70" y1="2339.9" y2="2346.9" stroke="#333" stroke-width="2.7"/><text x="763.70" y="2370.40" text-anchor="middle" font-size="23.6" fill="#4d4d4d">75</text><text x="501.70" y="2401.90" text-anchor="middle" font-size="27.8" fill="#000">Age</text><text transform="translate(21,2000.95) rotate(-90)" x="0" y="0" text-anchor="middle" font-size="27.8" fill="#000">Serum GFAP (pg/mL)</text><text x="92" y="1642.80" font-size="27.8" fill="#000">c</text><text x="150.95" y="1767.90" font-size="23.7" fill="#444">R<tspan font-size="16.3" dy="-10.8">2</tspan><tspan dy="10.8"> Age=0.27, p<0.001</tspan></text><text x="150.95" y="1825.50" font-size="23.7" fill="#444">R<tspan font-size="16.3" dy="-10.8">2</tspan><tspan dy="10.8"> ECT particpants=0.004, p=0.32</tspan></text></g><rect x="331.0" y="2451.5" width="23" height="23" fill="#dedede" stroke="#E41A1C" stroke-width="4.4"/><line x1="333.2" x2="351.8" y1="2462.9" y2="2462.9" stroke="#c8282b" stroke-width="3.5"/><text x="369" y="2472" font-size="23.8" fill="#000">Controls</text><rect x="474.5" y="2451.5" width="23" height="23" fill="#dedede" stroke="#377EB8" stroke-width="4.4"/><line x1="476.7" x2="495.3" y1="2462.9" y2="2462.9" stroke="#2f6a9f" stroke-width="3.5"/><text x="514" y="2472" font-size="23.8" fill="#000">ECT participants</text></svg>
</body></html>
